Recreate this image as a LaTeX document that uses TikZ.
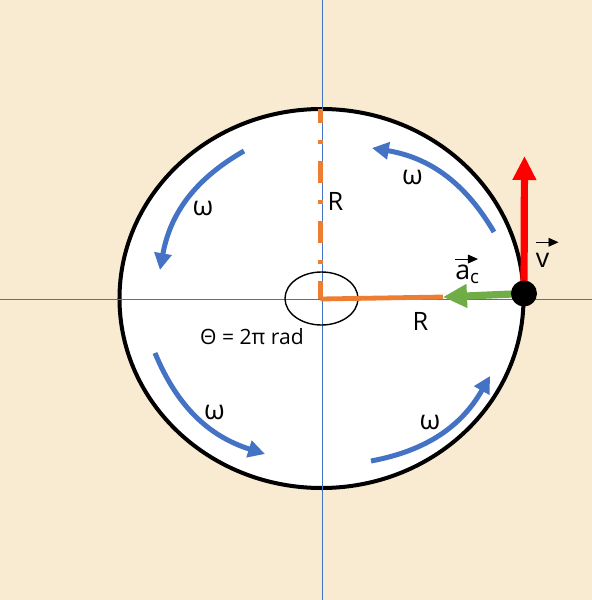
\documentclass[tikz,border=0pt]{standalone}
\usepackage{fontspec}
\setmainfont{Open Sans}
\usetikzlibrary{arrows.meta,positioning}
\usepackage{xcolor}
\definecolor{bgtan}{RGB}{248,235,209}
\definecolor{omegablue}{RGB}{68,114,196}
\definecolor{radorange}{RGB}{237,125,49}
\definecolor{accgreen}{RGB}{112,173,71}

\begin{document}
\begin{tikzpicture}[x=0.025cm,y=0.025cm]
    \tikzstyle{axisline} = [draw=omegablue, line width=0.6pt]
    \tikzstyle{rim} = [draw=black, fill=white, line width=0.1cm]
    \tikzstyle{omega} = [draw=omegablue, line width=0.125cm,
               -{Triangle[length=0.42cm,width=0.42cm]}]
    \tikzstyle{radline} = [draw=radorange, line width=0.12cm]
    \tikzstyle{vector} = [line width=0.18cm,
               -{Triangle[length=0.6cm,width=0.56cm]}]
    \tikzstyle{small vector} = [draw=black, line width=0.6pt,
               -{Triangle[length=0.25cm,width=0.22cm]}]
    \tikzstyle{txt} = [inner sep=0pt, font=\fontsize{18}{21}\selectfont]
    \tikzstyle{wtxt} = [inner sep=0pt, font=\fontsize{19}{22}\selectfont]
    \tikzstyle{dot} = [circle, fill=black, inner sep=0pt, minimum size=0.65cm]

    % Background
    \useasboundingbox (-320,-301.5) rectangle (272,298.5);
    \fill[bgtan] (-320,-301.5) rectangle (272,298.5);

    % Wheel
    \draw[rim] (1.5,0) ellipse [x radius=202, y radius=189.5];

    % Axes
    \coordinate (west) at (-320,-0.5);
    \coordinate (east) at (272,-0.5);
    \coordinate (north) at (2.5,298.5);
    \coordinate (south) at (2.5,-301.5);
    \draw[axisline] (west) -- (east);
    \draw[axisline] (north) -- (south);

    % Radius and angle
    \coordinate (O) at (0.5,-0.5);
    \coordinate (top) at (0.5,190);
    \coordinate (gtip) at (123,1.5);
    \draw[line width=1pt] (1.5,0) ellipse [x radius=36.5, y radius=26.5];
    \draw[radline, dash pattern=on 0.55cm off 0.425cm on 0.1cm off 0.425cm,
          dash phase=0.2cm] (top) -- (O);
    \draw[radline] (O) -- (gtip);

    % Rotation arrows
    \draw[omega] (-76,147.5) to[bend right=25] (-160,28.5);
    \draw[omega] (174,66.5) to[bend right=25] (52,150.5);
    \draw[omega] (-165,-54.5) to[bend right=25] (-55,-155.5);
    \draw[omega] (51,-162.5) to[bend right=25] (170,-77.5);

    % Velocity and acceleration
    \coordinate (P) at (204,5);
    \coordinate (vtip) at (204.5,142.5);
    \draw[vector, draw=red, fill=red] (P) -- (vtip);
    \draw[vector, draw=accgreen, fill=accgreen] (P) -- (gtip);
    \node[dot] (Pdot) at (P) {};

    % Labels
    \node[wtxt] (w1) at (-117,90.5) {ω};
    \node[wtxt] (w2) at (92.5,121) {ω};
    \node[wtxt] (w3) at (-105.5,-114) {ω};
    \node[wtxt] (w4) at (110,-123.5) {ω};
    \node[txt] (Rv) at (15.5,97.5) {R};
    \node[txt] (Rh) at (100.5,-23) {R};
    \node[txt, font=\fontsize{15}{18}\selectfont] (theta) at (-68,-38.5) {Θ = 2π rad};
    \node[wtxt] (ac) at (147.5,24) {a\textsubscript{c}};
    \node[wtxt] (v) at (222.5,38) {v};
    \draw[small vector] ([yshift=0.15cm]ac.north west) -- ++(23,0);
    \draw[small vector] ([yshift=0.27cm]v.north west) -- ++(23,0);
\end{tikzpicture}
\end{document}
